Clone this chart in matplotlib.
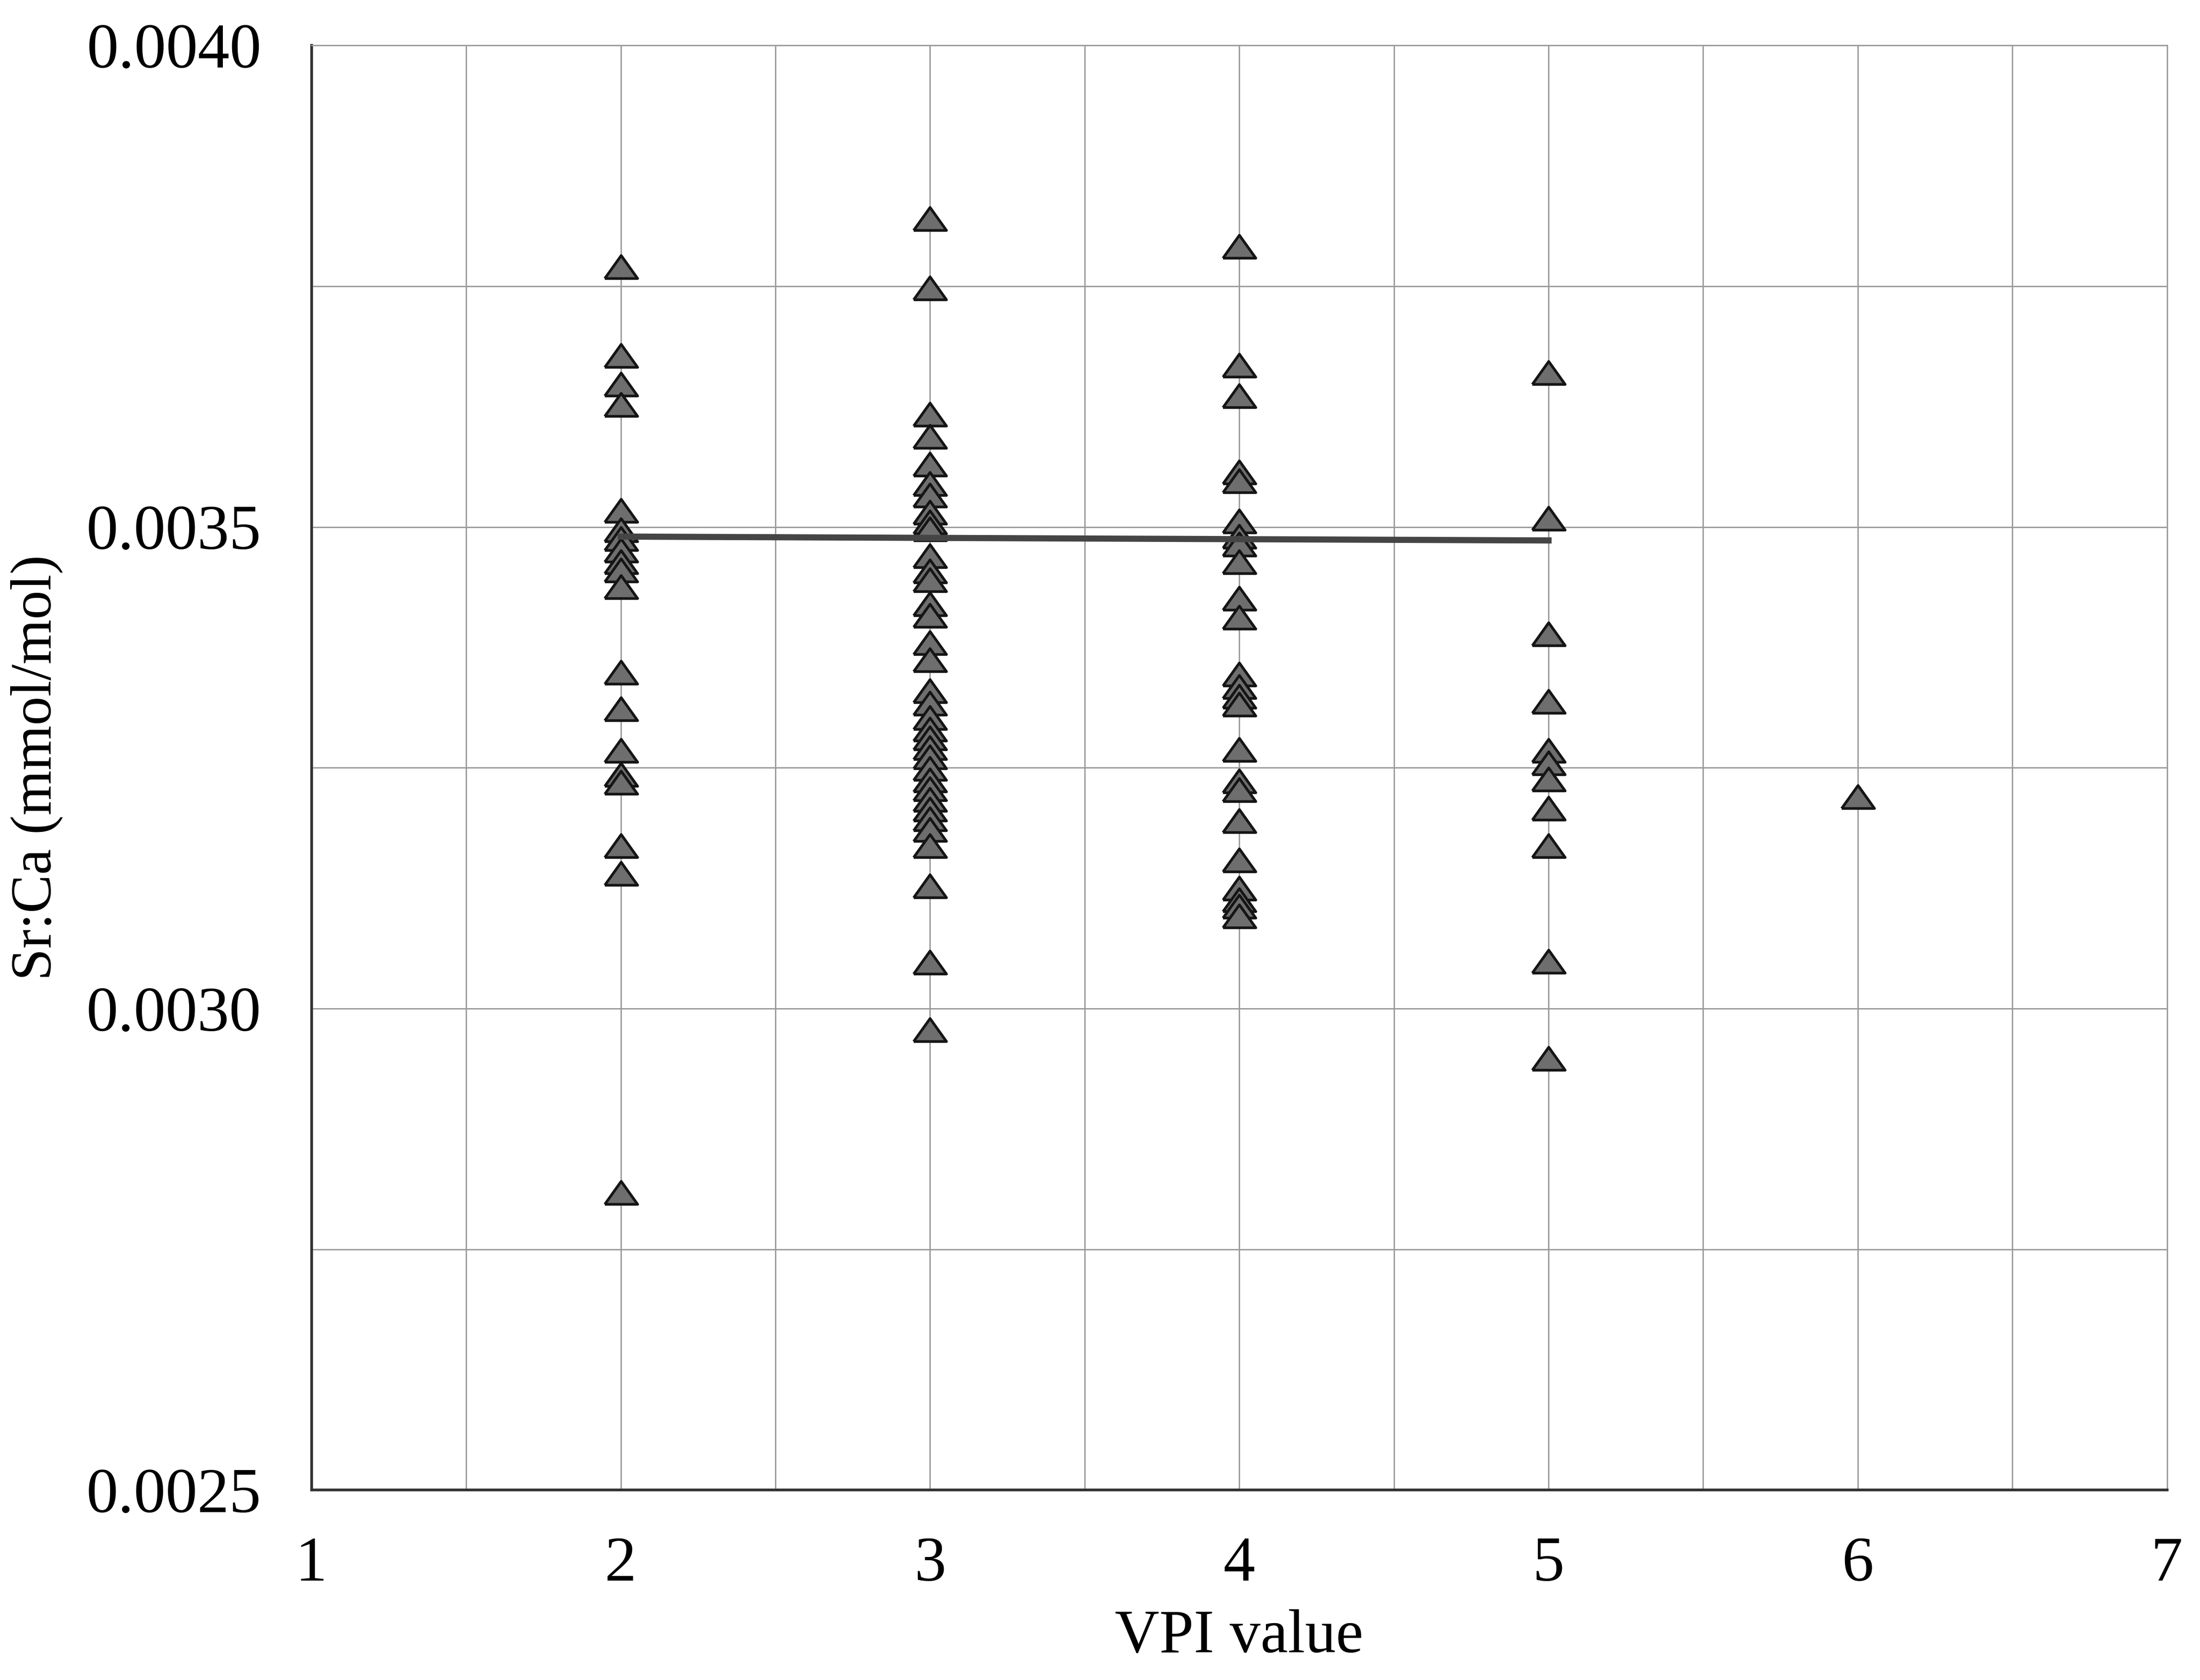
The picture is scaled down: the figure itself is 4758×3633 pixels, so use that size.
import matplotlib
matplotlib.use("Agg")
import matplotlib.pyplot as plt
from matplotlib.ticker import MultipleLocator, FormatStrFormatter

plt.rcParams['font.family'] = ['Liberation Serif', 'DejaVu Serif']

# Sr:Ca values, grouped by VPI value
vpi_2 = [0.003770, 0.003678, 0.003648, 0.003627, 0.003517, 0.003497, 0.003488,
         0.003476, 0.003464, 0.003455, 0.003438, 0.003349, 0.003311, 0.003268,
         0.003243, 0.003235, 0.003169, 0.003140, 0.002809]
vpi_3 = [0.003820, 0.003748, 0.003617, 0.003594, 0.003565, 0.003545, 0.003533,
         0.003515, 0.003505, 0.003498, 0.003470, 0.003454, 0.003445, 0.003420,
         0.003408, 0.003380, 0.003362, 0.003330, 0.003317, 0.003302, 0.003290,
         0.003281, 0.003271, 0.003261, 0.003249, 0.003237, 0.003228, 0.003217,
         0.003207, 0.003197, 0.003186, 0.003169, 0.003127, 0.003048, 0.002978]
vpi_4 = [0.003791, 0.003668, 0.003636, 0.003557, 0.003548, 0.003506, 0.003490,
         0.003482, 0.003464, 0.003426, 0.003406, 0.003347, 0.003334, 0.003324,
         0.003316, 0.003269, 0.003236, 0.003227, 0.003195, 0.003154, 0.003125,
         0.003113, 0.003106, 0.003096]
vpi_5 = [0.003660, 0.003509, 0.003389, 0.003319, 0.003268, 0.003255, 0.003238,
         0.003208, 0.003169, 0.003049, 0.002948]
vpi_6 = [0.003220]

groups = {2: vpi_2, 3: vpi_3, 4: vpi_4, 5: vpi_5, 6: vpi_6}

# trend line end points
trend_x = [2, 5]
trend_y = [0.003490, 0.003486]

xs = []
ys = []
for k in groups:
    xs += [k] * len(groups[k])
    ys += groups[k]

fig = plt.figure(figsize=(15.86, 12.11), dpi=300)
ax = fig.add_axes([0.1416, 0.113, 0.8434, 0.860])

# flattened triangle marker
tri = [(-1, -0.7), (1, -0.7), (0, 0.7), (-1, -0.7)]
ax.scatter(xs, ys, marker=tri, s=290, facecolor='#6e6e6e', edgecolor='#151515',
           linewidth=1.4, zorder=3)
ax.plot(trend_x, trend_y, color='#454545', linewidth=3.2, zorder=4)

ax.set_xlim(1, 7)
ax.set_ylim(0.0025, 0.0040)
ax.xaxis.set_major_locator(MultipleLocator(1))
ax.xaxis.set_minor_locator(MultipleLocator(0.5))
ax.yaxis.set_major_locator(MultipleLocator(0.0005))
ax.yaxis.set_minor_locator(MultipleLocator(0.00025))
ax.yaxis.set_major_formatter(FormatStrFormatter('%.4f'))
ax.grid(which='both', color='#9a9a9a', linewidth=0.7)
ax.set_axisbelow(True)
ax.tick_params(which='both', length=0, labelsize=33)
ax.tick_params(axis='y', which='major', pad=26)
ax.tick_params(axis='x', which='major', pad=24)
for s in ['top', 'right']:
    ax.spines[s].set_color('#9a9a9a')
    ax.spines[s].set_linewidth(0.7)
for s in ['left', 'bottom']:
    ax.spines[s].set_color('#333333')
    ax.spines[s].set_linewidth(1.4)

ax.set_xlabel('VPI value', fontsize=32, labelpad=8)
ax.set_ylabel('Sr:Ca (mmol/mol)', fontsize=30)
ax.yaxis.set_label_coords(-0.134, 0.5)

plt.savefig('out.png', dpi=300)
